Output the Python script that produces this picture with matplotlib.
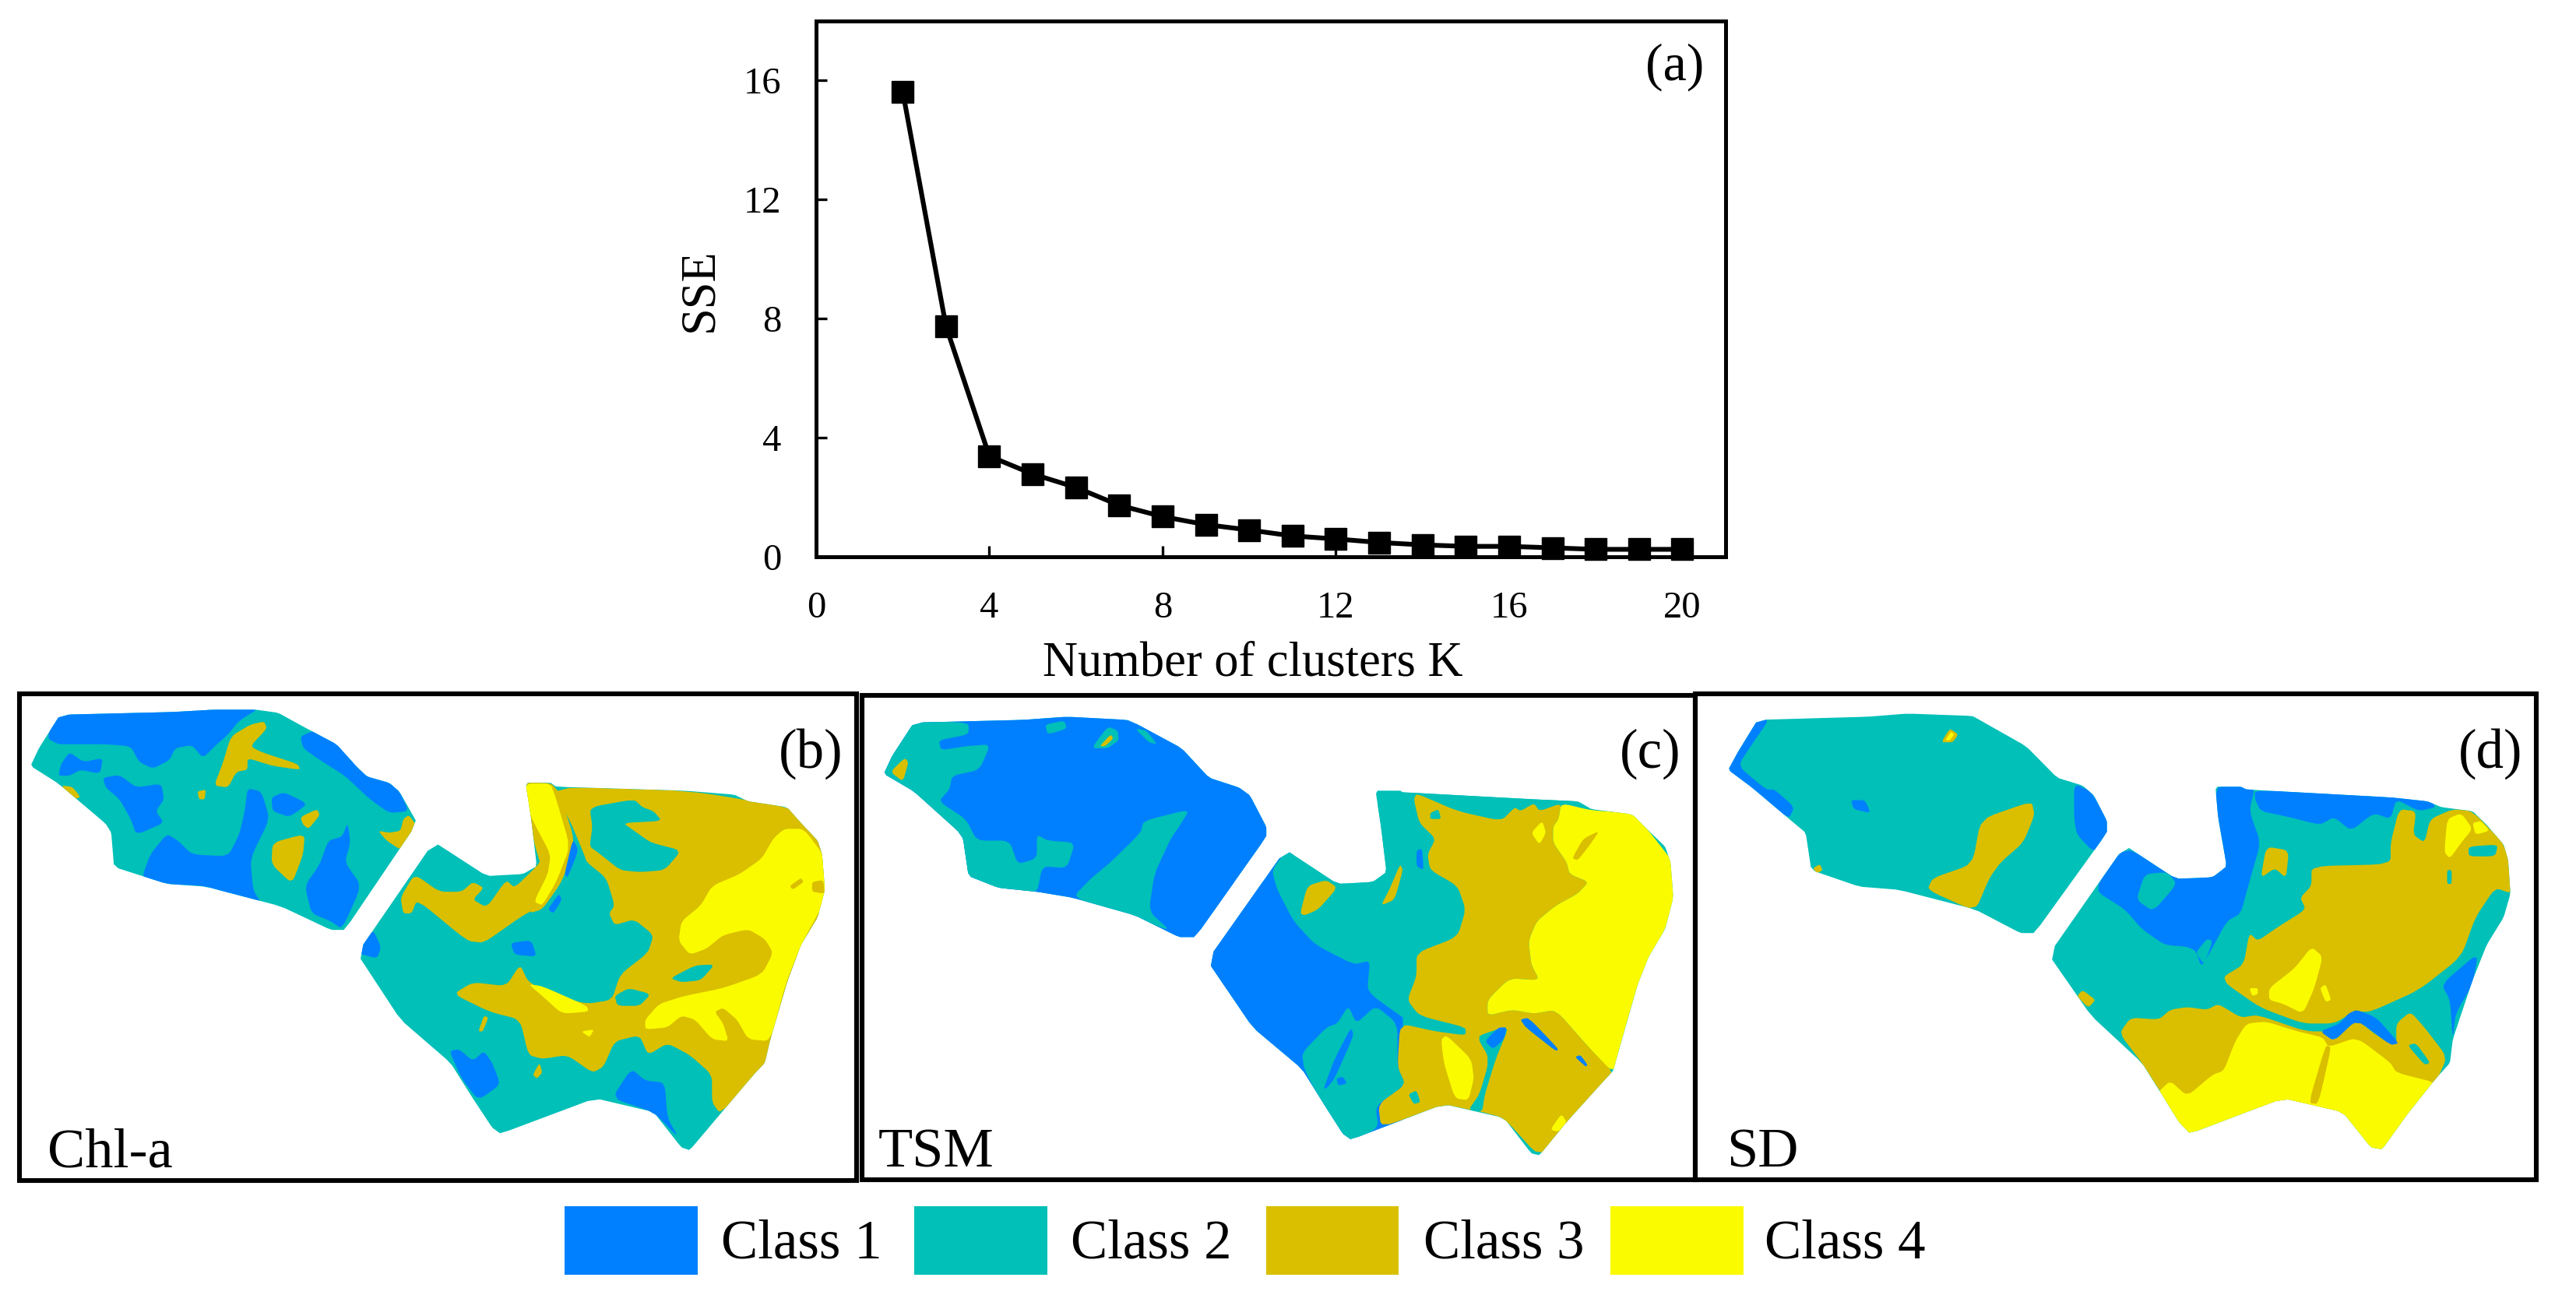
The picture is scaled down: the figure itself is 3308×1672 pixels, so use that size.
import matplotlib
matplotlib.use("Agg")
import matplotlib.pyplot as plt
from matplotlib.patches import Polygon, Rectangle, PathPatch
from matplotlib.path import Path

plt.rcParams['font.family'] = ['Liberation Serif', 'DejaVu Sans']

W, H = 3308, 1672

# ---- panel (a) data
k_values = list(range(2, 21))
sse_values = [15.63, 7.74, 3.38, 2.78, 2.33, 1.73, 1.35, 1.08, 0.90, 0.70, 0.60,
              0.48, 0.40, 0.35, 0.35, 0.30, 0.25, 0.25, 0.25]
x_ticks = [0, 4, 8, 12, 16, 20]
y_ticks = [0, 4, 8, 12, 16]

# ---- classes
class_names = ['Class 1', 'Class 2', 'Class 3', 'Class 4']
class_colors = ['#0080FF', '#00C0B8', '#D9BF00', '#FBFB00']

# ---- panel (b) Chl-a regions
b_outline = [
    [(108,75),(310,68),(385,62),(460,62),(500,70),(545,105),(605,150),(640,205),(660,232),(700,248),(718,270),(750,350),(620,622),(595,622),(505,562),(370,512),(300,505),(205,462),(200,375),(190,352),(105,250),(55,205),(70,160)],
    [(945,248),(990,248),(1000,258),(1230,268),(1320,278),(1345,295),(1415,310),(1440,350),(1470,395),(1478,430),(1483,520),(1470,590),(1440,660),(1415,755),(1385,900),(1375,960),(1355,990),(1295,1090),(1240,1182),(1225,1175),(1175,1085),(1070,1050),(900,1140),(885,1125),(850,1050),(810,960),(720,850),(642,682),(780,398),(875,485),(940,480),(965,460),(955,340)],
]
b_layers = [
    (0, [(100,70),(470,55),(430,90),(410,125),(390,150),(365,185),(345,152),(315,160),(305,190),(275,212),(250,195),(235,155),(190,150),(130,150),(105,150),(85,135)]),
    (0, [(125,170),(150,195),(185,185),(180,225),(145,215),(125,230),(105,230),(110,200)]),
    (0, [(540,130),(565,115),(610,150),(640,205),(660,232),(700,248),(718,270),(735,320),(700,325),(665,290),(620,230),(575,190),(545,160)]),
    (0, [(185,235),(215,228),(245,260),(290,250),(295,290),(280,320),(295,350),(245,380),(235,340),(215,290),(190,260)]),
    (0, [(300,378),(320,395),(345,430),(410,435),(430,380),(440,320),(445,262),(470,270),(485,340),(450,440),(455,520),(470,555),(420,535),(370,510),(290,505),(255,490),(270,430)]),
    (0, [(488,285),(510,272),(545,295),(550,305),(520,335),(490,320)]),
    (0, [(590,395),(615,385),(625,350),(630,400),(620,450),(650,510),(615,620),(595,600),(560,580),(548,510),(575,455)]),
    (2, [(385,255),(400,200),(415,130),(450,100),(475,92),(480,110),(450,155),(470,170),(535,200),(540,215),(490,205),(445,185),(445,215),(425,220),(410,260)]),
    (2, [(680,370),(700,375),(720,370),(725,340),(735,330),(748,355),(722,420),(695,395)]),
    (2, [(490,400),(548,378),(545,430),(525,505),(488,455)]),
    (2, [(540,335),(570,315),(575,330),(555,365),(545,355)]),
    (2, [(110,255),(130,258),(145,285),(130,290)]),
    (2, [(355,270),(370,265),(368,290),(358,290)]),
    (2, [(990,258),(1240,268),(1420,310),(1445,350),(1490,430),(1490,590),(1420,760),(1385,960),(1295,1090),(1280,1060),(1280,990),(1240,940),(1200,910),(1165,940),(1150,890),(1105,905),(1085,970),(1065,985),(1020,940),(975,950),(950,940),(935,850),(880,830),(815,785),(850,755),(910,765),(935,710),(950,755),(1000,790),(1055,810),(1100,800),(1115,735),(1165,680),(1175,635),(1140,595),(1105,610),(1095,580),(1105,560),(1090,490),(1055,450),(1050,430),(1025,345)]),
    (2, [(720,540),(745,480),(790,525),(830,525),(850,500),(870,515),(850,545),(875,565),(910,495),(925,515),(965,460),(985,420),(1000,470),(960,570),(935,590),(870,655),(840,650),(750,545),(740,580),(725,580)]),
    (2, [(940,245),(1000,250),(1035,400),(1010,500),(975,570),(950,580),(975,470),(960,400)]),
    (1, [(1060,310),(1140,290),(1155,310),(1175,320),(1190,345),(1120,350),(1140,370),(1170,400),(1225,420),(1195,470),(1150,475),(1115,470),(1075,425),(1060,410),(1065,360)]),
    (1, [(1205,745),(1250,712),(1285,710),(1260,750),(1225,755)]),
    (1, [(1105,790),(1130,770),(1170,785),(1150,815),(1110,815)]),
    (3, [(1410,365),(1445,365),(1480,430),(1490,530),(1440,660),(1412,760),(1385,905),(1345,900),(1325,850),(1300,820),(1285,830),(1300,860),(1310,905),(1280,900),(1250,850),(1225,840),(1200,870),(1160,875),(1160,850),(1185,810),(1230,790),(1300,770),(1370,735),(1390,680),(1375,645),(1345,620),(1300,635),(1270,670),(1240,685),(1220,650),(1225,600),(1260,560),(1280,510),(1330,480),(1370,440),(1390,390)]),
    (2, [(1420,510),(1440,490),(1445,500),(1425,520)]),
    (2, [(1460,500),(1480,495),(1483,530),(1460,525)]),
    (3, [(945,250),(990,250),(1000,290),(1025,410),(1000,500),(975,560),(960,550),(985,480),(990,430),(960,350),(945,300)]),
    (3, [(950,760),(975,765),(1055,815),(1058,830),(1010,835),(975,790)]),
    (3, [(1045,880),(1068,875),(1060,895)]),
    (0, [(918,655),(955,648),(965,690),(925,685)]),
    (0, [(640,680),(670,620),(685,665),(678,695)]),
    (0, [(808,930),(825,925),(850,955),(870,930),(885,960),(900,1015),(860,1055),(830,1000)]),
    (0, [(1100,1050),(1135,975),(1160,1005),(1195,1010),(1200,1100),(1220,1150),(1175,1085)]),
    (0, [(1030,390),(1040,420),(1020,490),(1015,480)]),
    (0, [(985,570),(1005,530),(1010,545),(995,580)]),
    (2, [(860,880),(870,840),(878,845),(868,880)]),
    (2, [(958,990),(970,960),(975,985),(965,1000)]),
]

# ---- panel (c) TSM regions
c_outline = [
    [(105,95),(305,88),(385,80),(495,88),(515,100),(595,160),(645,235),(700,260),(720,280),(750,360),(750,385),(620,640),(590,640),(510,585),(395,540),(330,525),(260,515),(205,485),(195,390),(185,370),(105,270),(50,225),(65,180)],
    [(950,268),(995,268),(1000,272),(1240,290),(1320,295),(1345,315),(1420,328),(1450,370),(1480,410),(1490,450),(1495,540),(1480,620),(1450,690),(1430,760),(1395,930),(1385,980),(1365,1010),(1300,1110),(1250,1195),(1235,1190),(1185,1100),(1075,1065),(905,1155),(890,1140),(860,1075),(815,975),(725,870),(642,700),(785,418),(880,505),(945,500),(970,475),(960,360)],
]
c_layers = [
    (0, [(-200,-200),(800,-200),(800,800),(-200,800)]),
    (0, [(500,500),(1000,500),(1000,1300),(500,1300)]),
    (1, [(100,90),(205,95),(205,125),(150,140),(155,165),(200,155),(245,150),(225,215),(175,230),(170,265),(150,295),(200,340),(220,395),(280,395),(295,455),(330,440),(330,380),(350,395),(400,400),(385,465),(340,460),(330,530),(260,520),(200,490),(190,375),(100,275),(45,225),(65,170)]),
    (1, [(525,345),(610,315),(590,360),(575,390),(545,480),(535,575),(575,625),(510,590),(395,540),(430,490),(465,450),(520,375)]),
    (1, [(345,100),(380,90),(385,110),(350,125)]),
    (1, [(510,110),(530,115),(550,150),(535,145)]),
    (1, [(430,160),(460,105),(478,115),(480,140),(460,160)]),
    (2, [(62,220),(88,185),(95,195),(85,245)]),
    (2, [(445,155),(465,125),(470,135),(455,155)]),
    (1, [(760,470),(790,415),(880,505),(945,500),(970,470),(945,265),(1345,295),(1345,315),(1250,320),(1240,300),(1215,320),(1205,310),(1180,345),(1100,320),(1040,280),(1020,290),(1030,350),(1060,390),(1045,430),(1050,470),(1100,510),(1115,570),(1100,640),(1025,680),(1025,740),(1008,800),(1030,840),(1115,870),(1115,890),(1060,880),(1010,855),(945,790),(935,770),(940,700),(910,710),(840,660),(800,600),(770,520)]),
    (1, [(815,935),(860,870),(880,860),(900,815),(915,860),(950,815),(990,860),(990,970),(1005,1015),(950,1070),(955,1125),(905,1160),(880,1130),(820,980)]),
    (0, [(855,1025),(875,950),(905,870),(910,890),(875,1000),(860,1025)]),
    (0, [(878,1000),(890,995),(898,1012),(882,1018)]),
    (2, [(1025,275),(1100,320),(1180,345),(1205,310),(1215,320),(1240,300),(1250,320),(1290,300),(1285,340),(1275,360),(1275,400),(1300,450),(1305,480),(1340,500),(1320,530),(1280,560),(1245,600),(1230,650),(1235,710),(1250,750),(1195,745),(1155,800),(1155,840),(1200,825),(1240,835),(1280,825),(1340,920),(1390,990),(1300,1120),(1250,1200),(1185,1100),(1145,1085),(1125,1080),(1075,1065),(960,1125),(955,1065),(1005,1015),(990,970),(995,860),(1060,880),(1115,890),(1115,870),(1030,840),(1008,800),(1025,740),(1025,680),(1100,640),(1115,570),(1100,510),(1050,470),(1045,430),(1060,390),(1030,350),(1020,290)]),
    (3, [(1290,300),(1345,318),(1420,325),(1450,370),(1495,450),(1500,540),(1480,620),(1430,760),(1395,930),(1385,985),(1340,920),(1280,825),(1240,835),(1200,825),(1155,840),(1155,800),(1195,745),(1250,750),(1235,710),(1230,650),(1245,600),(1280,560),(1320,530),(1340,500),(1305,480),(1300,450),(1275,400),(1275,360),(1285,340)]),
    (2, [(1310,440),(1330,390),(1360,370),(1340,410),(1320,445)]),
    (3, [(1235,375),(1255,345),(1262,375),(1250,405)]),
    (3, [(1070,900),(1080,890),(1125,950),(1130,1000),(1120,1055),(1095,1050),(1075,960)]),
    (3, [(1270,1130),(1290,1090),(1300,1110),(1285,1135)]),
    (1, [(1140,890),(1195,865),(1170,950),(1150,1040),(1145,1085),(1120,1080),(1140,1040),(1155,970),(1155,940),(1140,905)]),
    (0, [(1150,905),(1175,870),(1190,870),(1185,900),(1165,925)]),
    (0, [(1215,850),(1230,845),(1285,925),(1280,930),(1225,870)]),
    (0, [(1315,945),(1325,940),(1338,965),(1335,970)]),
    (0, [(1025,420),(1035,415),(1038,470),(1025,460)]),
    (2, [(812,580),(825,510),(860,495),(880,515),(845,570),(820,585)]),
    (2, [(960,560),(975,520),(995,455),(1000,470),(985,545)]),
    (1, [(1050,325),(1065,315),(1070,340),(1050,340)]),
    (1, [(1010,1040),(1025,1030),(1032,1060),(1020,1065)]),
]

# ---- panel (d) SD regions
d_outline = [
    [(120,88),(315,80),(385,72),(500,78),(515,90),(595,155),(650,235),(695,255),(715,280),(738,345),(738,375),(610,630),(585,630),(505,570),(370,520),(300,512),(215,470),(205,375),(180,345),(110,260),(68,215),(85,170)],
    [(930,258),(975,258),(985,265),(1240,285),(1305,295),(1330,310),(1385,320),(1410,355),(1440,405),(1448,445),(1452,530),(1440,590),(1410,660),(1385,750),(1350,900),(1345,960),(1320,1000),(1270,1090),(1225,1180),(1205,1175),(1155,1085),(1050,1050),(885,1140),(865,1110),(835,1040),(800,960),(710,840),(635,685),(770,407),(860,492),(925,488),(950,460),(935,340)],
]
d_layers = [
    (0, [(120,85),(140,88),(110,150),(85,205),(135,265),(150,265),(185,310),(175,340),(110,265),(65,215),(85,165)]),
    (0, [(285,292),(310,292),(320,325),(290,315)]),
    (0, [(680,250),(710,270),(740,345),(738,380),(715,425),(685,380),(680,340)]),
    (0, [(925,255),(1000,258),(990,320),(1010,400),(990,500),(975,580),(950,600),(920,680),(905,715),(895,675),(880,665),(840,660),(800,620),(770,570),(715,520),(770,407),(860,492),(925,488),(950,460)]),
    (1, [(805,480),(845,475),(862,505),(820,575),(790,545)]),
    (1, [(895,680),(915,645),(925,650),(910,710)]),
    (0, [(1000,265),(1310,290),(1320,310),(1290,320),(1250,290),(1240,340),(1210,325),(1170,370),(1140,335),(1115,355),(1060,335),(1010,320),(1000,290)]),
    (0, [(1330,760),(1395,680),(1385,760),(1355,835),(1350,900),(1345,800)]),
    (2, [(945,740),(980,710),(990,630),(1005,650),(1040,615),(1090,570),(1080,540),(1100,510),(1100,460),(1240,455),(1240,400),(1255,315),(1285,320),(1280,380),(1300,400),(1310,340),(1350,315),(1385,320),(1445,410),(1455,530),(1425,515),(1390,590),(1365,690),(1290,775),(1205,830),(1175,830),(1140,860),(1085,860),(1010,820),(950,760)]),
    (1, [(1378,410),(1430,405),(1425,435),(1378,435)]),
    (1, [(1340,470),(1348,470),(1348,505),(1340,505)]),
    (3, [(1340,340),(1365,325),(1385,365),(1365,400),(1345,440),(1335,425)]),
    (3, [(1385,350),(1400,345),(1415,370),(1390,380)]),
    (3, [(1025,770),(1070,720),(1100,665),(1120,690),(1105,770),(1085,835),(1050,810),(1025,800)]),
    (3, [(990,770),(1005,770),(1005,785),(995,790)]),
    (3, [(1115,770),(1125,760),(1135,800),(1125,805)]),
    (2, [(760,885),(780,845),(830,850),(850,825),(880,818),(915,825),(935,810),(975,845),(1005,838),(1090,880),(1145,880),(1180,850),(1215,890),(1250,915),(1250,860),(1275,830),(1300,870),(1340,945),(1320,1010),(1200,1100),(840,1050),(800,960)]),
    (3, [(985,860),(1020,855),(1075,880),(1120,895),(1130,920),(1180,895),(1240,960),(1250,985),(1325,1012),(1280,1100),(1225,1200),(1190,1190),(1155,1100),(1050,1070),(885,1160),(850,1110),(825,1040),(850,1005),(880,1045),(925,990),(945,980),(965,905)]),
    (2, [(1125,915),(1135,920),(1112,1065),(1095,1062)]),
    (1, [(1270,915),(1285,910),(1310,960),(1300,965)]),
    (0, [(1115,880),(1150,860),(1165,835),(1180,825),(1215,845),(1255,910),(1240,915),(1180,850),(1140,905)]),
    (2, [(1010,490),(1020,410),(1060,420),(1055,490),(1035,465)]),
    (2, [(420,520),(430,490),(500,455),(515,340),(605,295),(610,330),(590,400),(550,450),(530,490),(505,575)]),
    (2, [(445,145),(460,110),(475,125),(465,145)]),
    (3, [(452,140),(462,118),(468,125),(460,140)]),
    (2, [(218,465),(230,455),(235,470),(225,478)]),
    (2, [(685,790),(695,775),(718,800),(705,820)]),
]

panel_titles = ['(b)', '(c)', '(d)']
panel_names = ['Chl-a', 'TSM', 'SD']

fig = plt.figure(figsize=(W / 100, H / 100), dpi=100, facecolor='white')


def px_axes(x, y, w, h):
    return fig.add_axes([x / W, 1 - (y + h) / H, w / W, h / H])


def round_corners(pts, iterations, ratio):
    """Corner cutting, so that the hand-read region borders are not angular."""
    for _ in range(iterations):
        out = []
        n = len(pts)
        for i in range(n):
            (x0, y0), (x1, y1) = pts[i], pts[(i + 1) % n]
            out.append((x0 + ratio * (x1 - x0), y0 + ratio * (y1 - y0)))
            out.append((x1 - ratio * (x1 - x0), y1 - ratio * (y1 - y0)))
        pts = out
    return pts


# ---- panel (a)
ax = px_axes(1048, 27, 1168, 688)
ax.plot(k_values, sse_values, color='black', lw=4.4, marker='s', ms=20.5,
        clip_on=False, zorder=5)
ax.set_xlim(0, 21)
ax.set_ylim(0, 18)
ax.set_xticks(x_ticks)
ax.set_yticks(y_ticks)
ax.tick_params(direction='in', length=10, width=2.4, labelsize=35, pad=32)
for s in ax.spines.values():
    s.set_linewidth(3.6)
fig.text(1609 / W, 1 - 853 / H, 'Number of clusters K', fontsize=45, ha='center', va='center')
fig.text(899 / W, 1 - 372 / H, 'SSE', fontsize=45, rotation=90, ha='center', va='center')
ax.text(2151 / W, 1 - 86 / H, '(a)', transform=fig.transFigure, fontsize=49, ha='center', va='center')


# ---- map panels
def draw_panel(crop, base_color, outline, layers, frame, title, title_x, name, name_x):
    a = px_axes(*crop)
    a.set_xlim(0, 1568)
    a.set_ylim(1568, 0)
    a.axis('off')
    a.patch.set_alpha(0)
    verts, codes = [], []
    for ring in outline:
        ring = round_corners(ring, 1, 0.08)
        verts += ring + [ring[0]]
        codes += [Path.MOVETO] + [Path.LINETO] * (len(ring) - 1) + [Path.CLOSEPOLY]
    clip = PathPatch(Path(verts, codes), facecolor=class_colors[base_color], edgecolor='none')
    a.add_patch(clip)
    for cls, pts in layers:
        p = Polygon(round_corners(pts, 2, 0.15), closed=True,
                    facecolor=class_colors[cls], edgecolor='none')
        a.add_patch(p)
        p.set_clip_path(clip)
    x0, y0, x1, y1 = frame
    a.add_patch(Rectangle((x0, y0), x1 - x0, y1 - y0, fill=False, edgecolor='black',
                          lw=4.4, clip_on=False))
    a.text(title_x, 175, title, fontsize=51, ha='center', va='center')
    a.text(name_x, 1225, name, fontsize=52, ha='left', va='baseline')


draw_panel((0, 880, 1120, 792), 1, b_outline, b_layers, (35, 22, 1540, 1260),
           panel_titles[0], 1458, panel_names[0], 85)
draw_panel((1100, 880, 1100, 792), 1, c_outline, c_layers, (10, 25, 1535, 1258),
           panel_titles[1], 1453, panel_names[1], 40)
draw_panel((2170, 880, 1138, 792), 1, d_outline, d_layers, (10, 22, 1498, 1258),
           panel_titles[2], 1417, panel_names[2], 65)

# ---- legend
leg = px_axes(0, 0, W, H)
leg.set_xlim(0, W)
leg.set_ylim(H, 0)
leg.axis('off')
leg.patch.set_alpha(0)
swatch_left = [725, 1174, 1626, 2068]
swatch_right = [896, 1345, 1796, 2239]
label_left = [926, 1375, 1828, 2266]
for color, name, l, r, t in zip(class_colors, class_names, swatch_left, swatch_right, label_left):
    leg.add_patch(Rectangle((l, 1549), r - l, 88, facecolor=color, edgecolor='none'))
    leg.text(t, 1598, name, fontsize=51, ha='left', va='center')

fig.savefig('out.png', dpi=100)
